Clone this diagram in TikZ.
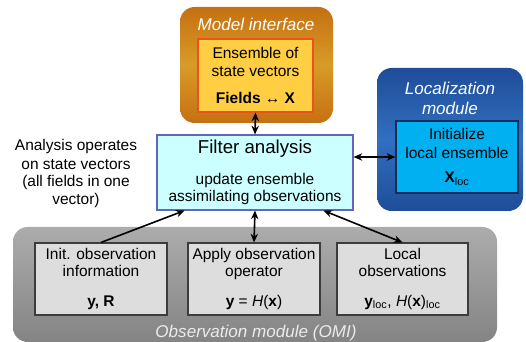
\documentclass[tikz,border=0pt]{standalone}
\usepackage{fontspec}
\setmainfont{Liberation Sans}
\usetikzlibrary{arrows.meta, positioning, calc}
\definecolor{modelDark}{RGB}{197,112,18}
\definecolor{modelLight}{RGB}{216,155,38}
\definecolor{ensFill}{RGB}{255,206,66}
\definecolor{ensLine}{RGB}{236,82,30}
\definecolor{locDark}{RGB}{30,76,152}
\definecolor{locLight}{RGB}{48,112,192}
\definecolor{locFill}{RGB}{0,176,240}
\definecolor{locLine}{RGB}{25,45,90}
\definecolor{filtFill}{RGB}{204,255,255}
\definecolor{filtLine}{RGB}{100,100,190}
\definecolor{obsTop}{RGB}{172,172,172}
\definecolor{obsBot}{RGB}{132,132,132}
\definecolor{obsFill}{RGB}{221,221,221}
\definecolor{obsLine}{RGB}{60,60,60}

\begin{document}
\begin{tikzpicture}[
                x=0.75pt, y=-0.75pt,
                module/.style={rounded corners=11pt, inner sep=0pt},
                modtitle/.style={text=white, align=center, font=\fontsize{12.8}{15}\selectfont\itshape},
                box/.style={draw, line width=0.8pt, align=center, inner sep=0pt, font=\fontsize{11.6}{13.5}\selectfont},
                arr/.style={{Stealth[length=6.5pt,width=5.5pt]}-, line width=1.2pt},
                darr/.style={{Stealth[length=6.5pt,width=5.5pt]}-{Stealth[length=6.5pt,width=5.5pt]}, line width=1.2pt}
            ]
            \useasboundingbox (0,0) rectangle (526,342);
            % modules
            \node[module, top color=modelDark, bottom color=modelDark, middle color=modelLight, minimum width=114.75pt, minimum height=87pt] (model) at (256.5,65) {};
            \node[module, top color=locDark, bottom color=locDark, middle color=locLight, minimum width=109.5pt, minimum height=107.25pt] (loc) at (450,139.5) {};
            \node[module, top color=obsTop, bottom color=obsBot, minimum width=363pt, minimum height=86.25pt] (obs) at (255,284.5) {};
            \node[modtitle] (modeltitle) at (256,24) {Model interface};
            \node[modtitle] (loctitle) at (450,98) {Localization\\module};
            \node[modtitle, text=white!92!black] (obstitle) at (256,333.5) {Observation module (OMI)};
            % boxes
            \node[box, draw=ensLine, fill=ensFill, minimum width=86.25pt, minimum height=54.75pt] (ens) at (255.5,75.5) {Ensemble of\\state vectors\\[7pt]\textbf{Fields ↔ X}};
            \node[box, draw=locLine, fill=locFill, minimum width=91.5pt, minimum height=54pt, font=\fontsize{11.6}{14.2}\selectfont] (locens) at (457,157) {Initialize\\local ensemble\\[4pt]\textbf{X}\textsubscript{loc}};
            \node[box, draw=filtLine, fill=filtFill, minimum width=147pt, minimum height=56.25pt, font=\fontsize{11.6}{12.8}\selectfont] (filter) at (255,172.5) {{\fontsize{14}{12.8}\selectfont Filter analysis}\\[10pt]update ensemble\\assimilating observations};
            \node[box, draw=obsLine, fill=obsFill, minimum width=99pt, minimum height=54pt, font=\fontsize{11.6}{12.8}\selectfont] (initobs) at (101,279) {Init. observation\\information\\[9pt]\textbf{y, R}};
            \node[box, draw=obsLine, fill=obsFill, minimum width=99pt, minimum height=54pt, font=\fontsize{11.6}{12.8}\selectfont] (applyobs) at (254,279) {Apply observation\\operator\\[9pt]\textbf{y} = \textit{H}(\textbf{x})};
            \node[box, draw=obsLine, fill=obsFill, minimum width=98.25pt, minimum height=54pt, font=\fontsize{11.6}{12.8}\selectfont] (locobs) at (402.5,279) {Local\\observations\\[9pt]\textbf{y}\textsubscript{loc}, \textit{H}(\textbf{x})\textsubscript{loc}};
            \node[align=center, font=\fontsize{11.6}{13.5}\selectfont] (note) at (76,174) {Analysis operates\\on state vectors\\(all fields in one\\vector)};
            % connectors
            \draw[darr] (ens.south) -- (filter.north);
            \draw[darr] (locens.west -| filter.east) -- (locens.west);
            \draw[arr] ($(filter.south west)!0.143!(filter.south east)$) -- (initobs.north);
            \draw[darr] (filter.south) -- (applyobs.north);
            \draw[darr] ($(filter.south west)!0.847!(filter.south east)$) -- (locobs.north);
        \end{tikzpicture}
\end{document}
